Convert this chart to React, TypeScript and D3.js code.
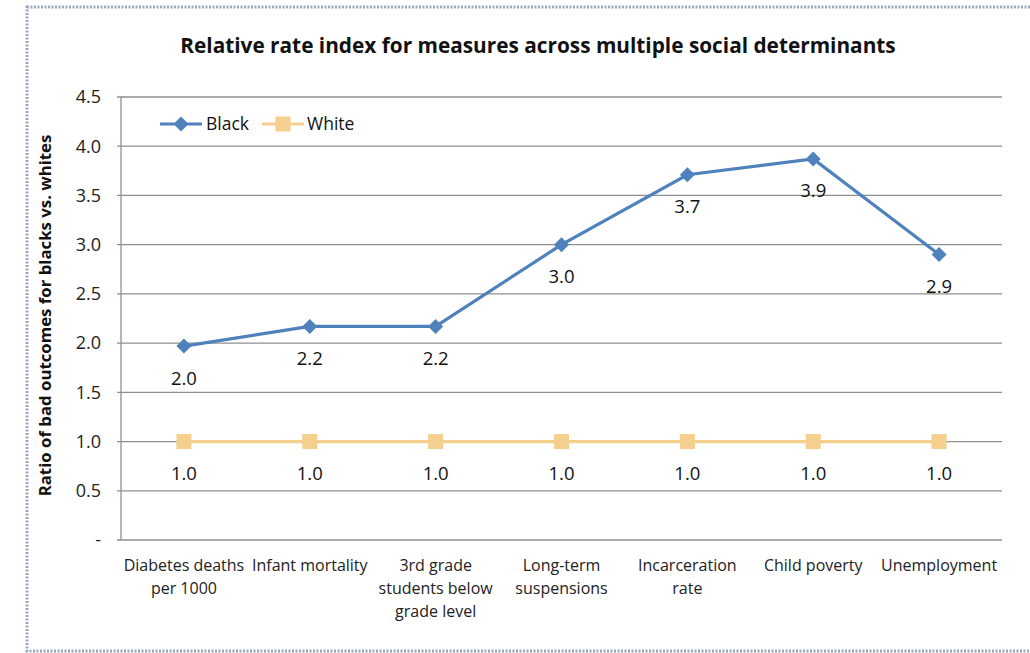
import React from "react";
import * as d3 from "d3";

const categories = [
  ["Diabetes deaths", "per 1000"],
  ["Infant mortality"],
  ["3rd grade", "students below", "grade level"],
  ["Long-term", "suspensions"],
  ["Incarceration", "rate"],
  ["Child poverty"],
  ["Unemployment"],
];
const blackValues = [1.97, 2.17, 2.17, 3.0, 3.71, 3.87, 2.9];
const whiteValues = [1.0, 1.0, 1.0, 1.0, 1.0, 1.0, 1.0];
const yTicks = [0, 0.5, 1.0, 1.5, 2.0, 2.5, 3.0, 3.5, 4.0, 4.5];
const seriesNames = ["Black", "White"];

const W = 1030;
const H = 653;
const M = { left: 121, right: 1002, top: 97, bottom: 540 };
const BLACK_C = "#4F81BD";
const WHITE_C = "#F5CF8E";
const FONT = "'Open Sans', 'Noto Sans', sans-serif";

export default function App() {
  const x = d3
    .scaleBand<number>()
    .domain(d3.range(categories.length))
    .range([M.left, M.right]);
  const y = d3.scaleLinear().domain([0, 4.5]).range([M.bottom, M.top]);
  const cx = (i: number) => (x(i) as number) + x.bandwidth() / 2;
  const line = d3
    .line<number>()
    .x((_, i) => cx(i))
    .y((v) => y(v));
  const diamond = (px: number, py: number, r: number) =>
    `M${px},${py - r}L${px + r},${py}L${px},${py + r}L${px - r},${py}Z`;

  return (
    <svg
      width={W}
      height={H}
      style={{ position: "absolute", left: 0, top: 0, background: "#fff" }}
      fontFamily={FONT}
    >
      {/* outer border */}
      <rect
        x={27}
        y={7}
        width={W + 10}
        height={644}
        fill="none"
        stroke="#9CA9BC"
        strokeWidth={3}
        strokeDasharray="2 1.5"
      />
      <text
        x={538}
        y={53}
        textAnchor="middle"
        fontSize={20.8}
        fontWeight="bold"
        fill="#111"
      >
        Relative rate index for measures across multiple social determinants
      </text>
      {/* gridlines */}
      {yTicks.map((t) => (
        <g key={t}>
          <line
            x1={M.left - 4}
            x2={M.right}
            y1={y(t)}
            y2={y(t)}
            stroke="#8f8f8f"
            strokeWidth={1.3}
          />
          <text
            x={101}
            y={y(t)}
            dy="0.35em"
            textAnchor="end"
            fontSize={18}
            fill="#222"
          >
            {t === 0 ? "-" : t.toFixed(1)}
          </text>
        </g>
      ))}
      <line
        x1={M.left}
        x2={M.left}
        y1={M.top}
        y2={M.bottom}
        stroke="#8f8f8f"
        strokeWidth={1.3}
      />
      {/* y axis title */}
      <text
        transform={`translate(51,${(M.top + M.bottom) / 2 - 3}) rotate(-90)`}
        textAnchor="middle"
        fontSize={16.8}
        fontWeight="bold"
        fill="#111"
      >
        Ratio of bad outcomes for blacks vs. whites
      </text>
      {/* category labels */}
      {categories.map((lines, i) => (
        <text
          key={i}
          x={cx(i)}
          y={571}
          textAnchor="middle"
          fontSize={16}
          fill="#222"
        >
          {lines.map((l, j) => (
            <tspan key={j} x={cx(i)} dy={j === 0 ? 0 : 23}>
              {l}
            </tspan>
          ))}
        </text>
      ))}
      {/* white series */}
      <path
        d={line(whiteValues) || ""}
        fill="none"
        stroke={WHITE_C}
        strokeWidth={3.2}
      />
      {whiteValues.map((v, i) => (
        <g key={i}>
          <rect
            x={cx(i) - 7.5}
            y={y(v) - 7.5}
            width={15}
            height={15}
            fill={WHITE_C}
          />
          <text
            x={cx(i)}
            y={y(v) + 32}
            dy="0.35em"
            textAnchor="middle"
            fontSize={18.5}
            fill="#111"
          >
            {v.toFixed(1)}
          </text>
        </g>
      ))}
      {/* black series */}
      <path
        d={line(blackValues) || ""}
        fill="none"
        stroke={BLACK_C}
        strokeWidth={3.2}
      />
      {blackValues.map((v, i) => (
        <g key={i}>
          <path d={diamond(cx(i), y(v), 7.5)} fill={BLACK_C} />
          <text
            x={cx(i)}
            y={y(v) + 32}
            dy="0.35em"
            textAnchor="middle"
            fontSize={18.5}
            fill="#111"
          >
            {v.toFixed(1)}
          </text>
        </g>
      ))}
      {/* legend */}
      <g>
        <line x1={160} x2={202} y1={124} y2={124} stroke={BLACK_C} strokeWidth={3.2} />
        <path d={diamond(181, 124, 7.5)} fill={BLACK_C} />
        <text x={206} y={124} dy="0.35em" fontSize={17.5} fill="#111">
          {seriesNames[0]}
        </text>
        <line x1={262} x2={304} y1={124} y2={124} stroke={WHITE_C} strokeWidth={3.2} />
        <rect x={275.5} y={116.5} width={15} height={15} fill={WHITE_C} />
        <text x={307} y={124} dy="0.35em" fontSize={17.5} fill="#111">
          {seriesNames[1]}
        </text>
      </g>
    </svg>
  );
}
